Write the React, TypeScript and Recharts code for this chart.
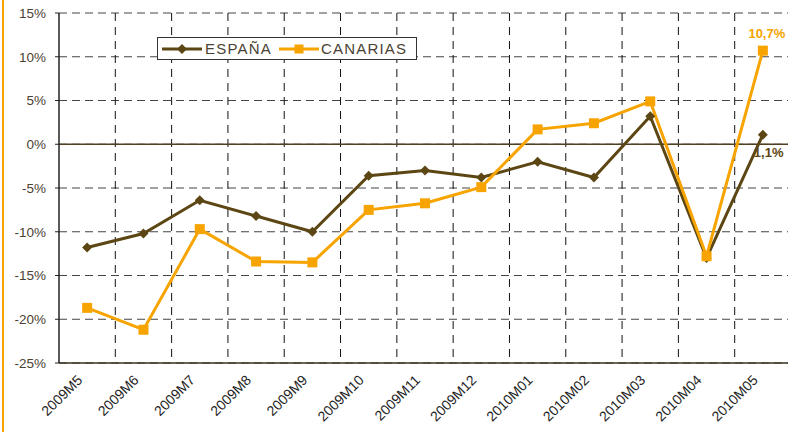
import React from "react";
import {
  LineChart,
  Line,
  XAxis,
  YAxis,
  CartesianGrid,
  ReferenceLine,
  LabelList,
} from "recharts";

// months on the x axis
const months = [
  "2009M5",
  "2009M6",
  "2009M7",
  "2009M8",
  "2009M9",
  "2009M10",
  "2009M11",
  "2009M12",
  "2010M01",
  "2010M02",
  "2010M03",
  "2010M04",
  "2010M05",
];

// values in %
const espana = [-11.8, -10.2, -6.4, -8.2, -10.0, -3.6, -3.0, -3.8, -2.0, -3.8, 3.2, -13.0, 1.1];
const canarias = [-18.7, -21.2, -9.7, -13.4, -13.5, -7.5, -6.75, -4.9, 1.7, 2.4, 4.9, -12.8, 10.7];

const yTicks = [-25, -20, -15, -10, -5, 0, 5, 10, 15];

const data = months.map((m, i) => ({ month: m, espana: espana[i], canarias: canarias[i] }));

const BROWN = "#5c4614";
const ORANGE = "#f7a400";
const TEXT = "#4a4232";
const FONT = "'Liberation Sans', Arial, sans-serif";

const fmt = (v: number) => v.toFixed(1).replace(".", ",") + "%";

// vertical grid lines sit on the band boundaries of the category axis
const bandEdges = (props: any) => {
  const { xAxis, offset } = props;
  const s = xAxis && xAxis.scale;
  const f = typeof s === "function" ? s : s && typeof s.map === "function" ? (v: string) => s.map(v) : null;
  const out: number[] = [];
  months.slice(1).forEach((m, i) => {
    const v = f ? f(m) : undefined;
    out.push(typeof v === "number" && !isNaN(v) ? v : offset.left + ((i + 1) * offset.width) / months.length);
  });
  return out;
};

const Diamond = (props: any) => {
  const { cx, cy } = props;
  if (cx == null || cy == null) return null;
  const r = 5;
  return (
    <path
      d={`M${cx},${cy - r} L${cx + r},${cy} L${cx},${cy + r} L${cx - r},${cy} Z`}
      fill={BROWN}
    />
  );
};

const Square = (props: any) => {
  const { cx, cy } = props;
  if (cx == null || cy == null) return null;
  return <rect x={cx - 5} y={cy - 5} width={10} height={10} fill={ORANGE} />;
};

const XTick = (props: any) => {
  const { x, y, payload } = props;
  const ax = x - 4;
  const ay = y + 10;
  return (
    <text
      x={ax}
      y={ay}
      transform={`rotate(-45, ${ax}, ${ay})`}
      textAnchor="end"
      fontSize={14}
      fontFamily={FONT}
      fill="#1e1e1e"
    >
      {payload.value}
    </text>
  );
};

const LastLabel = (color: string, dx: number, dy: number, anchor: string) => (props: any) => {
  const { x, y, width, value, index } = props;
  if (index !== months.length - 1) return null;
  return (
    <text
      x={x + (width || 0) / 2 + dx}
      y={y + dy}
      textAnchor={anchor}
      fontSize={13}
      fontWeight="bold"
      fontFamily={FONT}
      fill={color}
    >
      {fmt(value)}
    </text>
  );
};

const LegendBox = () => (
  <div
    style={{
      position: "absolute",
      left: 157,
      top: 37,
      display: "flex",
      alignItems: "center",
      height: 21,
      width: 258,
      border: "1px solid #333",
      background: "#fff",
      fontFamily: FONT,
      fontSize: 15,
      letterSpacing: 1.2,
      color: TEXT,
      whiteSpace: "nowrap",
    }}
  >
    <svg width={40} height={12} style={{ marginLeft: 4 }}>
      <line x1={0} y1={6} x2={40} y2={6} stroke={BROWN} strokeWidth={3} />
      <path d="M20,1 L25,6 L20,11 L15,6 Z" fill={BROWN} />
    </svg>
    <span style={{ marginLeft: 3 }}>ESPAÑA</span>
    <svg width={40} height={12} style={{ marginLeft: 7 }}>
      <line x1={0} y1={6} x2={40} y2={6} stroke={ORANGE} strokeWidth={3} />
      <rect x={15.5} y={1.5} width={9} height={9} fill={ORANGE} />
    </svg>
    <span style={{ marginLeft: 2 }}>CANARIAS</span>
  </div>
);

export default function App() {
  return (
    <div
      style={{
        position: "absolute",
        left: 0,
        top: 0,
        width: 788,
        height: 432,
        overflow: "hidden",
        background: "#fff",
      }}
    >
      <div
        style={{
          position: "absolute",
          left: 2,
          top: 0,
          width: 2,
          height: 432,
          background: ORANGE,
        }}
      />
      <LineChart
        width={791}
        height={432}
        data={data}
        margin={{ top: 13, right: 0, bottom: 0, left: 0 }}
      >
        <XAxis
          dataKey="month"
          scale="band"
          height={69}
          interval={0}
          tick={<XTick />}
          tickLine={false}
          axisLine={{ stroke: "#3a3020", strokeWidth: 1.5 }}
        />
        <YAxis
          width={59}
          domain={[-25, 15]}
          ticks={yTicks}
          interval={0}
          allowDataOverflow
          tickFormatter={(v: number) => `${v}%`}
          tick={{ fontSize: 13.5, fontFamily: FONT, fill: TEXT }}
          tickSize={4}
          tickMargin={9}
          tickLine={{ stroke: "#222" }}
          axisLine={{ stroke: "#222", strokeWidth: 1.5 }}
        />
        <CartesianGrid vertical={false} stroke="#444" strokeDasharray="8 5" />
        <CartesianGrid
          horizontal={false}
          stroke="#111"
          strokeDasharray="8 6"
          verticalCoordinatesGenerator={bandEdges}
        />
        <ReferenceLine y={0} stroke="#4e4020" strokeWidth={1.3} />
        <Line
          type="linear"
          dataKey="espana"
          name="ESPAÑA"
          stroke={BROWN}
          strokeWidth={3}
          dot={<Diamond />}
          isAnimationActive={false}
        >
          <LabelList dataKey="espana" content={LastLabel(BROWN, -9, 22, "start")} />
        </Line>
        <Line
          type="linear"
          dataKey="canarias"
          name="CANARIAS"
          stroke={ORANGE}
          strokeWidth={3}
          dot={<Square />}
          isAnimationActive={false}
        >
          <LabelList dataKey="canarias" content={LastLabel(ORANGE, 4, -13, "middle")} />
        </Line>
      </LineChart>
      <LegendBox />
    </div>
  );
}
